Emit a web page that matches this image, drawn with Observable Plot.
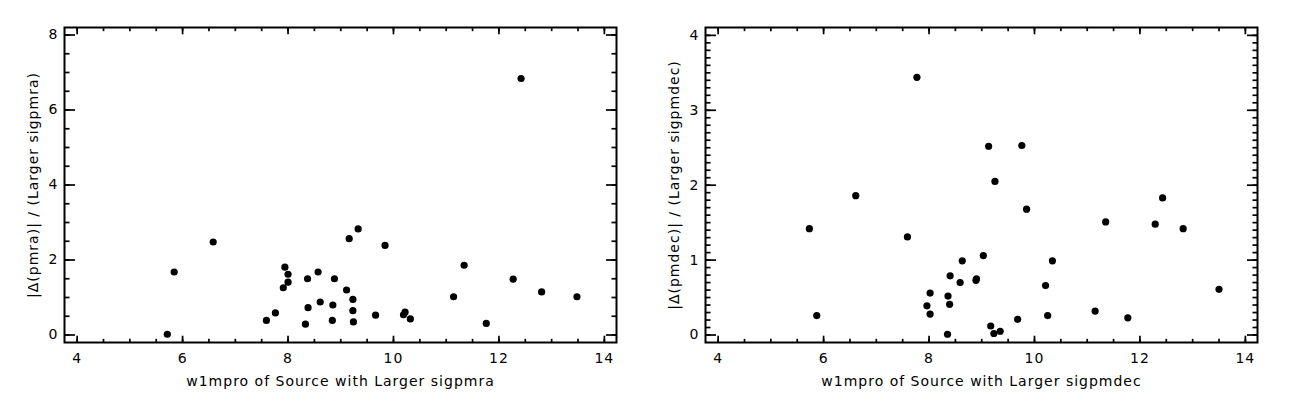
<!DOCTYPE html>
<html><head><meta charset="utf-8">
<script src="https://cdn.jsdelivr.net/npm/d3@7"></script>
<script src="https://cdn.jsdelivr.net/npm/@observablehq/plot@0.6"></script>
<style>body{margin:0;background:#fff}#row{display:flex;width:1289px}</style>
</head><body><div id="row"></div>
<script>
// Left panel: |Δ(pmra)| / (Larger sigpmra)
const raW1 = [5.71, 5.84, 6.58, 7.59, 7.76, 7.94, 8.00, 8.00, 7.91, 8.33, 8.37, 8.38, 8.57, 8.61, 8.88, 8.85, 8.84, 9.11, 9.23, 9.23, 9.24, 9.16, 9.33, 9.66, 9.84, 10.19, 10.22, 10.32, 11.14, 11.34, 11.76, 12.27, 12.42, 12.81, 13.48];
const raVal = [0.02, 1.68, 2.48, 0.39, 0.59, 1.81, 1.62, 1.41, 1.26, 0.29, 1.50, 0.73, 1.68, 0.88, 1.50, 0.80, 0.39, 1.20, 0.95, 0.65, 0.35, 2.57, 2.83, 0.53, 2.39, 0.54, 0.61, 0.43, 1.02, 1.86, 0.31, 1.49, 6.84, 1.15, 1.02];
// Right panel: |Δ(pmdec)| / (Larger sigpmdec)
const decW1 = [5.73, 5.87, 6.61, 7.59, 7.77, 7.96, 8.02, 8.02, 8.35, 8.36, 8.39, 8.40, 8.59, 8.63, 9.13, 9.76, 9.25, 9.85, 9.03, 8.89, 8.90, 9.17, 9.23, 9.35, 9.68, 10.21, 10.25, 10.34, 11.15, 11.35, 11.77, 12.29, 12.43, 12.82, 13.50];
const decVal = [1.42, 0.26, 1.86, 1.31, 3.44, 0.39, 0.56, 0.28, 0.01, 0.52, 0.41, 0.79, 0.70, 0.99, 2.52, 2.53, 2.05, 1.68, 1.06, 0.73, 0.75, 0.12, 0.02, 0.05, 0.21, 0.66, 0.26, 0.99, 0.32, 1.51, 0.23, 1.48, 1.83, 1.42, 0.61];

const xTicks = [4, 6, 8, 10, 12, 14];
const xMinor = d3.range(4, 14.001, 0.5);
const raYTicks = [0, 2, 4, 6, 8];
const raYMinor = d3.range(0, 8.001, 0.5);
const decYTicks = [0, 1, 2, 3, 4];
const decYMinor = d3.range(0, 4.001, 0.1);

const FONT = "DejaVu Sans";
const fmt = d => String(Math.round(d));

function panel({xs, ys, xLabel, yLabel, yDomain, yTicks, yMinor, width, ml, mr}) {
  const mt = 27, mb = 70, height = 412;
  const pw = width - ml - mr, ph = height - mt - mb;
  const xLen = 0.02 * ph, yLen = 0.02 * pw;
  const sw = 1.7;
  const blank = () => "";
  return Plot.plot({
    width, height,
    marginLeft: ml, marginRight: mr, marginTop: mt, marginBottom: mb,
    style: {fontFamily: FONT, fontSize: "14px", color: "black", background: "white", letterSpacing: "1px"},
    x: {domain: [3.76, 14.23]},
    y: {domain: yDomain},
    marks: [
      // major ticks (inward) on all sides
      Plot.axisX({anchor: "bottom", ticks: xTicks, tickSize: xLen, dy: -xLen, tickFormat: blank, label: null, strokeWidth: sw}),
      Plot.axisX({anchor: "top", ticks: xTicks, tickSize: xLen, dy: xLen, tickFormat: blank, label: null, strokeWidth: sw}),
      Plot.axisY({anchor: "left", ticks: yTicks, tickSize: yLen, dx: yLen, tickFormat: blank, label: null, strokeWidth: sw}),
      Plot.axisY({anchor: "right", ticks: yTicks, tickSize: yLen, dx: -yLen, tickFormat: blank, label: null, strokeWidth: sw}),
      // minor ticks
      Plot.axisX({anchor: "bottom", ticks: xMinor, tickSize: xLen / 2, dy: -xLen / 2, tickFormat: blank, label: null, strokeWidth: sw}),
      Plot.axisX({anchor: "top", ticks: xMinor, tickSize: xLen / 2, dy: xLen / 2, tickFormat: blank, label: null, strokeWidth: sw}),
      Plot.axisY({anchor: "left", ticks: yMinor, tickSize: yLen / 2, dx: yLen / 2, tickFormat: blank, label: null, strokeWidth: sw}),
      Plot.axisY({anchor: "right", ticks: yMinor, tickSize: yLen / 2, dx: -yLen / 2, tickFormat: blank, label: null, strokeWidth: sw}),
      // tick labels
      Plot.axisX({anchor: "bottom", ticks: xTicks, tickSize: 0, tickPadding: 11, tickFormat: fmt, label: null, fontSize: 14}),
      Plot.axisY({anchor: "left", ticks: yTicks, tickSize: 0, tickPadding: 6, tickFormat: fmt, label: null, fontSize: 14}),
      Plot.frame({stroke: "black", strokeWidth: 2}),
      Plot.dot(xs, {x: xs, y: ys, r: 3.6, fill: "black"}),
      Plot.text([xLabel], {frameAnchor: "bottom", dy: 39, fontSize: 14, lineAnchor: "middle", textAnchor: "middle"}),
      Plot.text([yLabel], {frameAnchor: "left", dx: -31, rotate: -90, fontSize: 14, lineAnchor: "middle", textAnchor: "middle"})
    ]
  });
}

const row = document.getElementById("row");
row.append(panel({
  xs: raW1, ys: raVal,
  xLabel: "w1mpro of Source with Larger sigpmra",
  yLabel: "|Δ(pmra)| / (Larger sigpmra)",
  yDomain: [-0.2, 8.2], yTicks: raYTicks, yMinor: raYMinor,
  width: 644, ml: 64, mr: 28
}));
row.append(panel({
  xs: decW1, ys: decVal,
  xLabel: "w1mpro of Source with Larger sigpmdec",
  yLabel: "|Δ(pmdec)| / (Larger sigpmdec)",
  yDomain: [-0.1, 4.105], yTicks: decYTicks, yMinor: decYMinor,
  width: 645, ml: 61, mr: 32
}));
</script>
</body></html>
